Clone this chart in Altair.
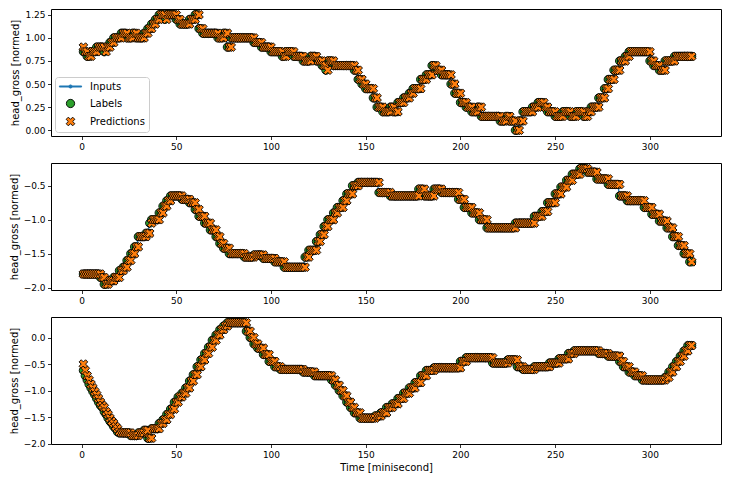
import altair as alt
import numpy as np
import pandas as pd

# ---- data (value, run length) per panel ----
p1_levels = [0.90, 0.85, 0.80, 0.85, 0.90, 0.85, 0.90, 0.95, 1.00, 1.05,
             1.00, 1.05, 1.00, 1.05, 1.10, 1.15, 1.20, 1.25, 1.20, 1.25,
             1.20, 1.15, 1.20, 1.25, 1.10, 1.05, 1.00, 1.05, 0.90, 1.00,
             0.95, 0.90, 0.85, 0.80, 0.85, 0.80, 0.75, 0.80, 0.75, 0.70,
             0.65, 0.75, 0.70, 0.65, 0.55, 0.50, 0.45, 0.35, 0.25, 0.20,
             0.25, 0.20, 0.30, 0.35, 0.40, 0.45, 0.55, 0.60, 0.70, 0.65,
             0.60, 0.50, 0.40, 0.30, 0.25, 0.20, 0.25, 0.15, 0.10, 0.15,
             0.10, 0.00, 0.10, 0.20, 0.25, 0.30, 0.25, 0.20, 0.15, 0.20,
             0.15, 0.20, 0.15, 0.20, 0.25, 0.35, 0.45, 0.55, 0.65, 0.75,
             0.80, 0.85, 0.75, 0.70, 0.65, 0.75, 0.80]
p1_counts = [1, 2, 2, 3, 4, 1, 2, 2, 4, 3,
             3, 2, 4, 2, 2, 2, 2, 3, 1, 5,
             2, 5, 3, 2, 2, 8, 3, 2, 2, 12,
             4, 5, 6, 2, 4, 5, 4, 3, 3, 2,
             1, 3, 11, 2, 2, 2, 4, 2, 3, 4,
             2, 2, 3, 3, 2, 4, 3, 3, 2, 3,
             5, 2, 3, 3, 3, 3, 2, 10, 3, 2,
             3, 2, 2, 5, 3, 3, 2, 4, 4, 4,
             3, 4, 2, 2, 4, 3, 2, 3, 3, 3,
             2, 11, 2, 3, 3, 5, 10]

p2_levels = [-1.80, -1.85, -1.95, -1.90, -1.85, -1.75, -1.70, -1.60, -1.50, -1.40,
             -1.25, -1.20, -1.05, -1.00, -0.90, -0.80, -0.72, -0.65, -0.70, -0.75,
             -0.85, -0.95, -1.05, -1.15, -1.25, -1.35, -1.42, -1.50, -1.55, -1.52,
             -1.57, -1.62, -1.70, -1.55, -1.45, -1.32, -1.22, -1.10, -1.00, -0.90,
             -0.82, -0.72, -0.62, -0.50, -0.45, -0.60, -0.65, -0.55, -0.65, -0.55,
             -0.60, -0.70, -0.82, -0.90, -1.00, -1.12, -1.05, -0.95, -0.88, -0.75,
             -0.62, -0.52, -0.42, -0.33, -0.25, -0.30, -0.40, -0.48, -0.65, -0.72,
             -0.82, -0.92, -1.02, -1.12, -1.25, -1.38, -1.50, -1.62]
p2_counts = [10, 2, 2, 3, 3, 2, 2, 2, 2, 2,
             4, 2, 1, 4, 2, 2, 2, 6, 4, 3,
             2, 3, 3, 3, 2, 2, 3, 8, 5, 5,
             6, 5, 11, 2, 4, 2, 2, 2, 3, 2,
             3, 2, 3, 3, 11, 6, 15, 3, 5, 4,
             9, 3, 4, 4, 4, 15, 10, 4, 3, 4,
             3, 3, 3, 4, 4, 5, 6, 6, 4, 9,
             4, 4, 4, 3, 3, 3, 3, 2]

p3_levels = [-0.50, -0.62, -0.72, -0.80, -0.88, -0.95, -1.02, -1.08, -1.15, -1.22,
             -1.28, -1.32, -1.40, -1.45, -1.52, -1.58, -1.62, -1.68, -1.72, -1.78,
             -1.80, -1.85, -1.80, -1.75, -1.90, -1.72, -1.62, -1.55, -1.45, -1.35,
             -1.22, -1.12, -1.05, -0.95, -0.82, -0.70, -0.55, -0.42, -0.30, -0.18,
             -0.05, 0.05, 0.15, 0.22, 0.28, 0.12, 0.00, -0.12, -0.20, -0.32,
             -0.45, -0.55, -0.60, -0.65, -0.72, -0.80, -0.90, -1.00, -1.10, -1.22,
             -1.32, -1.42, -1.52, -1.48, -1.42, -1.32, -1.25, -1.15, -1.05, -0.95,
             -0.85, -0.72, -0.62, -0.57, -0.45, -0.38, -0.48, -0.42, -0.55, -0.60,
             -0.55, -0.48, -0.40, -0.30, -0.25, -0.30, -0.35, -0.45, -0.55, -0.65,
             -0.72, -0.80, -0.75, -0.65, -0.55, -0.45, -0.35, -0.25, -0.15]
p3_counts = [1, 1, 1, 1, 1, 1, 1, 1, 1, 1,
             1, 1, 1, 1, 1, 1, 1, 1, 1, 1,
             6, 4, 3, 2, 2, 4, 2, 2, 2, 2,
             2, 2, 2, 2, 2, 2, 2, 2, 2, 2,
             2, 2, 2, 2, 10, 2, 2, 2, 3, 3,
             3, 3, 12, 6, 9, 2, 2, 2, 2, 2,
             2, 3, 8, 3, 3, 3, 3, 3, 3, 3,
             3, 3, 4, 14, 3, 14, 8, 5, 3, 6,
             8, 5, 5, 3, 13, 5, 6, 2, 3, 3,
             4, 12, 2, 2, 2, 2, 2, 2, 3]

x_ticks = [0, 50, 100, 150, 200, 250, 300]
p1_yticks = [0.0, 0.25, 0.5, 0.75, 1.0, 1.25]
p2_yticks = [-2.0, -1.5, -1.0, -0.5]
p3_yticks = [-2.0, -1.5, -1.0, -0.5, 0.0]

series_names = ["Inputs", "Labels", "Predictions"]
fill_colors = ["#1f77b4", "#2ca02c", "#ff7f0e"]
stroke_colors = ["#1f77b4", "black", "black"]
CIRCLE = "M0.9,0A0.9,0.9,0,1,1,-0.9,0A0.9,0.9,0,1,1,0.9,0Z"
XMARK = ("M0.471,-0.943L0.943,-0.471L0.471,0L0.943,0.471L0.471,0.943L0,0.471"
         "L-0.471,0.943L-0.943,0.471L-0.471,0L-0.943,-0.471L-0.471,-0.943L0,-0.471Z")
LINEDOT = ("M-2.4,-0.12H2.4V0.12H-2.4Z"
           "M0.35,0A0.35,0.35,0,1,1,-0.35,0A0.35,0.35,0,1,1,0.35,0Z")
shapes = [LINEDOT, CIRCLE, XMARK]

FONT = "DejaVu Sans"
X_DOMAIN = [-16.1, 337.5]
W, H = 670, 127


def expand(levels, counts):
    v = np.repeat(np.array(levels, dtype=float), counts)
    assert len(v) == 323, len(v)
    return v


def panel(levels, counts, ydomain, yticks, yfmt, legend, xtitle):
    v = expand(levels, counts)
    t = np.arange(len(v))
    inp = pd.DataFrame({"t": t[:-1], "value": v[:-1]})
    pts = pd.concat([
        pd.DataFrame({"t": t[1:], "value": v[1:], "series": "Labels"}),
        pd.DataFrame({"t": t[1:], "value": v[:-1], "series": "Predictions"}),
    ], ignore_index=True)

    xaxis = alt.Axis(values=x_ticks, format="d", title=xtitle, titlePadding=3)
    x = alt.X("t:Q", scale=alt.Scale(domain=X_DOMAIN, nice=False, zero=False), axis=xaxis)
    y = alt.Y("value:Q", scale=alt.Scale(domain=ydomain, nice=False, zero=False),
              axis=alt.Axis(values=yticks, format=yfmt, title="head_gross [normed]"))

    line = alt.Chart(inp).mark_line(color="#1f77b4", strokeWidth=1.3).encode(x=x, y=y)
    dots = alt.Chart(inp).mark_circle(color="#1f77b4", size=8, opacity=1).encode(x=x, y=y)
    sc = alt.Chart(pts).mark_point(filled=True, opacity=1, size=85, strokeWidth=0.9).encode(
        x=x, y=y,
        color=alt.Color("series:N", scale=alt.Scale(domain=series_names, range=fill_colors), legend=legend),
        stroke=alt.Stroke("series:N", scale=alt.Scale(domain=series_names, range=stroke_colors), legend=legend),
        shape=alt.Shape("series:N", scale=alt.Scale(domain=series_names, range=shapes), legend=legend),
    )
    return alt.layer(line, dots, sc).properties(width=W, height=H)


leg = alt.Legend(title=None, orient="bottom-left", direction="vertical", offset=4,
                 padding=4, rowPadding=5, symbolSize=85, symbolStrokeWidth=0.9,
                 symbolOffset=6, labelOffset=14, labelFontSize=10, labelFont=FONT,
                 labelColor="black", fillColor="rgba(255,255,255,0.8)",
                 strokeColor="#cccccc", cornerRadius=3)

c1 = panel(p1_levels, p1_counts, [-0.0625, 1.3125], p1_yticks, ".2f", leg, None)
c2 = panel(p2_levels, p2_counts, [-2.035, -0.165], p2_yticks, ".1f", None, None)
c3 = panel(p3_levels, p3_counts, [-2.009, 0.389], p3_yticks, ".1f", None, "Time [minisecond]")

chart = alt.vconcat(c1, c2, c3, spacing=10).resolve_scale(
    color="independent", stroke="independent", shape="independent"
).properties(
    padding={"left": 0, "top": 0, "right": 0, "bottom": 0}
).configure_view(
    stroke="black", strokeWidth=1
).configure_axis(
    domain=False, grid=False, ticks=True, tickColor="black", tickSize=3.5, tickWidth=0.8,
    labelColor="black", labelFont=FONT, labelFontSize=9, labelPadding=2.5,
    titleFont=FONT, titleFontSize=10, titleFontWeight="normal", titleColor="black",
    titlePadding=4
)

chart.save("out.html", embed_options={"renderer": "svg", "actions": False})
